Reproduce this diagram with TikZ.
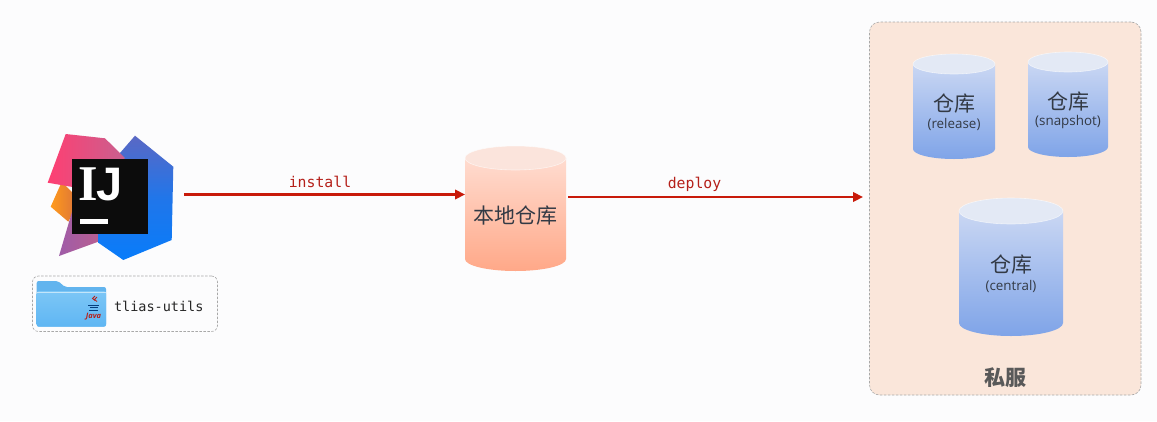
\documentclass[tikz,border=0pt]{standalone}
\usepackage{fontspec}
\setmainfont{Open Sans}
\setmonofont{DejaVu Sans Mono}
\newfontfamily\cjk{Noto Sans CJK SC}
\newfontfamily\logoslab{Liberation Serif}
\newfontfamily\logosans{Liberation Sans}
\usetikzlibrary{arrows.meta}
\definecolor{pagebg}{HTML}{FCFCFD}
\definecolor{arrowred}{HTML}{C81A0A}
\definecolor{labelred}{HTML}{B5201A}
\definecolor{ink}{HTML}{333A45}
\definecolor{panelfill}{HTML}{FAE6DA}
\definecolor{dashgray}{HTML}{A8A8A8}
\definecolor{blueT}{HTML}{CAD7F3}
\definecolor{blueB}{HTML}{7FA4E8}
\definecolor{blueL}{HTML}{E3E9F5}
\definecolor{peachT}{HTML}{FFDCD0}
\definecolor{peachB}{HTML}{FFA888}
\definecolor{peachL}{HTML}{FBE4DC}
\definecolor{logoblueA}{HTML}{5A68C4}
\definecolor{logoblueB}{HTML}{087CFA}
\definecolor{logored}{HTML}{FE3F72}
\definecolor{logoredB}{HTML}{C9608F}
\definecolor{logoorange}{HTML}{FF9A1C}
\definecolor{logoorangeB}{HTML}{D8703C}
\definecolor{logopurple}{HTML}{9F5CA8}
\definecolor{logopurpleB}{HTML}{C0608A}
\definecolor{logoblack}{HTML}{0C0C0C}
\definecolor{folderback}{HTML}{62B4EE}
\definecolor{foldertop}{HTML}{7CC6F6}
\definecolor{folderbot}{HTML}{5FB6F3}
\tikzset{
  x=1pt,y=-1pt,
  conn/.style={draw=arrowred,line width=2.2pt,-{Triangle[length=10pt,width=9.5pt]}},
  connlabel/.style={text=labelred,font=\ttfamily\fontsize{14.8}{16}\selectfont,inner sep=0pt},
  blank/.style={inner sep=0pt,outer sep=0pt},
  cntext/.style={blank,text=ink,font=\cjk\fontsize{21}{24}\selectfont},
  latintext/.style={blank,text=ink,font=\fontsize{13.4}{15}\selectfont},
  dashedbox/.style={draw=dashgray,dash pattern=on 2.5pt off 1.5pt,line width=.6pt},
}
% xl, xr, lid centre y, base centre y, ry, top colour, bottom colour, lid colour
\newcommand{\drumshape}[8]{%
  \shade[top color=#6,bottom color=#7]
    (#1,#3) -- (#1,#4) arc[start angle=180,end angle=0,x radius={(#2-#1)/2},y radius=#5] -- (#2,#3) -- cycle;
  \fill[#8,draw=white,draw opacity=.6,line width=.6pt] ({(#1+#2)/2},#3) ellipse[x radius={(#2-#1)/2},y radius=#5];
}
\begin{document}
\begin{tikzpicture}
\useasboundingbox (0,0) rectangle (1157,421);
\fill[pagebg] (0,0) rectangle (1157,421);

% ---- IntelliJ logo
\shade[left color=logoorange,right color=logoorangeB] (61.7,182) -- (50.7,206.7) -- (68.3,221.7) -- (80,200) -- cycle;
\shade[shading angle=20,left color=logopurple,right color=logopurpleB] (74,205) -- (59,256) -- (112,236.7) -- (100,190) -- cycle;
\shade[top color=logoblueA,bottom color=logoblueB,middle color=logoblueB!70!logoblueA] (135,135.7) -- (173.3,166.7) -- (171.7,240) -- (123.3,260) -- (98.3,242.7) -- (100,170) -- (120,153) -- cycle;
\shade[left color=logored,right color=logoredB] (65.7,134) -- (105,138.3) -- (125,158) -- (90,190) -- (47.7,182.7) -- cycle;
\node[blank,fill=logoblack,minimum width=76pt,minimum height=75.3pt] (logo) at (110.3,196.6) {};
\node[blank,text=white,font=\logoslab\bfseries\fontsize{50}{50}\selectfont] (logoI) at (88,184.5) {I};
\node[blank,text=white,font=\logosans\bfseries\fontsize{47}{47}\selectfont] (logoJ) at (110,185) {J};
\fill[white] (80,219.3) rectangle (108.3,224.3);

% ---- project chip
\node[blank,dashedbox,rounded corners=6pt,minimum width=185pt,minimum height=55.5pt] (project) at (125,303.75) {};
\fill[folderback,rounded corners=2pt] (36.7,326.7) -- (36.7,281) -- (58,281) -- (65,287) -- (106,287) -- (106,326.7) -- cycle;
\shade[top color=foldertop,bottom color=folderbot,rounded corners=2.5pt] (36.7,291) rectangle (106,326.7);
\draw[white,opacity=.55,line width=.5pt] (36.7,292.5) -- (106,292.5);
\draw[labelred,line width=.8pt] (95,296) -- (92.5,298.5) -- (95,300.5);
\draw[labelred,line width=.8pt] (97,297) -- (94.5,299.5) -- (97,301.5);
\draw[logoblueB!50!black,line width=.7pt] (88,305) -- (99,305) (89.5,307.5) -- (97.5,307.5) (89,310) -- (98,310);
\node[blank,text=labelred,font=\bfseries\itshape\fontsize{7.5}{8}\selectfont] (javamark) at (93.5,316.5) {Java};
\node[blank,anchor=west,text=black!85,font=\ttfamily\fontsize{13.5}{15}\selectfont] (projectname) at (114,306) {tlias-utils};

% ---- local repository
\drumshape{465}{566}{158}{259}{12}{peachT}{peachB}{peachL}
\node[blank,minimum width=101pt,minimum height=125pt] (local) at (515.5,208.5) {};
\node[cntext] (localtext) at (515.5,216) {本地仓库};

% ---- private server panel
\node[blank,dashedbox,fill=panelfill,rounded corners=10pt,minimum width=271.5pt,minimum height=373pt] (panel) at (1005.25,208.5) {};
\node[blank,text=black!65,font=\cjk\bfseries\fontsize{21}{24}\selectfont] (paneltitle) at (1005,378) {私服};

\drumshape{913}{995}{64}{149}{10}{blueT}{blueB}{blueL}
\node[cntext] (release) at (954,104) {仓库};
\node[latintext] (releasetag) at (954,124) {(release)};

\drumshape{1028}{1108}{62}{147}{10}{blueT}{blueB}{blueL}
\node[cntext] (snapshot) at (1068,102) {仓库};
\node[latintext] (snapshottag) at (1068,122) {(snapshot)};

\drumshape{959}{1063}{211}{323}{13}{blueT}{blueB}{blueL}
\node[cntext] (central) at (1011,265) {仓库};
\node[latintext] (centraltag) at (1011,286) {(central)};

% ---- connectors
\coordinate (logoright) at (184,194.5);
\coordinate (panelleft) at (863,197);
\draw[conn] (logoright) -- (local.west |- logoright);
\draw[conn] (local.east |- panelleft) ++(2,0) -- (panelleft);
\node[connlabel] (install) at (320,182) {install};
\node[connlabel] (deploy) at (694.5,184) {deploy};
\end{tikzpicture}
\end{document}
